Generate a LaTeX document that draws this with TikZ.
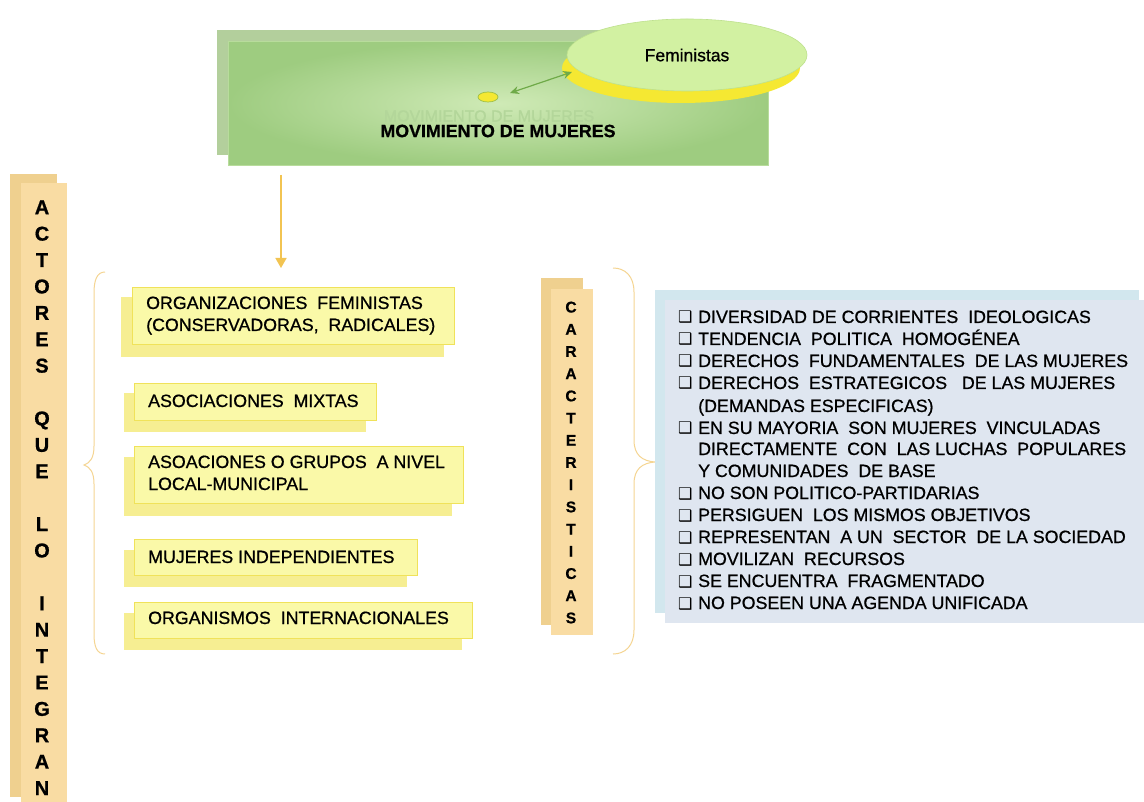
\documentclass[tikz,border=0pt]{standalone}
\usepackage{fontspec}
\setmainfont{Liberation Sans}[FakeBold=0.8]
\newfontfamily\dejavu{DejaVu Sans}
\usetikzlibrary{arrows.meta,shapes.geometric}
\definecolor{gback}{HTML}{B3CF9C}
\definecolor{gin}{HTML}{CFEAB6}
\definecolor{gout}{HTML}{9ECC80}
\definecolor{gborder}{HTML}{B8DC9C}
\definecolor{ghost}{HTML}{B3D69A}
\definecolor{femfill}{HTML}{D2F1A2}
\definecolor{femline}{HTML}{BEE18E}
\definecolor{yel}{HTML}{F5E832}
\definecolor{dotline}{HTML}{9DBE45}
\definecolor{garrow}{HTML}{6FAA48}
\definecolor{orarrow}{HTML}{F2C452}
\definecolor{tanback}{HTML}{EFD08F}
\definecolor{tanfront}{HTML}{F9DCA3}
\definecolor{bracec}{HTML}{F5D592}
\definecolor{yshad}{HTML}{F6EE92}
\definecolor{yfront}{HTML}{FAF9A8}
\definecolor{yline}{HTML}{F0E25A}
\definecolor{bback}{HTML}{D2E7EE}
\definecolor{bfront}{HTML}{DFE6F0}
\tikzset{
  txt/.style={inner sep=0pt, anchor=base west, font=\fontsize{17.8}{22}\selectfont},
  vlet/.style={inner sep=0pt, anchor=base, font=\fontsize{20}{22}\selectfont\bfseries},
  clet/.style={inner sep=0pt, anchor=base, font=\fontsize{15.5}{18}\selectfont\bfseries},
  ybox/.style={draw=yline, line width=0.7pt, fill=yfront, anchor=north west, inner sep=0pt},
  bul/.style={inner sep=0pt, anchor=base west, font=\dejavu\fontsize{16}{18}\selectfont},
  brace/.style={draw=bracec, line width=1pt},
}
\begin{document}
\begin{tikzpicture}[x=1pt,y=-1pt]
\useasboundingbox (0,0) rectangle (1144,802);
\fill[white] (0,0) rectangle (1144,802);

% top green box
\fill[gback] (217,30) rectangle (757,155);
\node[draw=gborder, line width=0.8pt, inner color=gin, outer color=gout, minimum width=540, minimum height=124, anchor=north west, inner sep=0pt] (mov) at (228,41) {};
\node[inner sep=0pt, text=ghost, font=\fontsize{16}{20}\selectfont] (ghosttxt) at (489,116) {MOVIMIENTO DE MUJERES};
\node[inner sep=0pt, font=\fontsize{17.8}{20}\selectfont\bfseries] (movtxt) at (498,131) {MOVIMIENTO DE MUJERES};

% Feministas ellipse
\node[ellipse, fill=yel, minimum width=238, minimum height=70, inner sep=0pt] (femsh) at (681,68) {};
\node[ellipse, fill=femfill, draw=femline, line width=0.6pt, minimum width=240, minimum height=72, inner sep=0pt, font=\fontsize{17.5}{20}\selectfont] (fem) at (687,55) {Feministas};
\node[ellipse, fill=yel, draw=dotline, line width=0.7pt, minimum width=20, minimum height=10, inner sep=0pt] (dot) at (488,97) {};
\coordinate (da) at (510,93);
\coordinate (db) at (572,72);
\draw[garrow, line width=1.2pt, {Stealth[length=9pt,width=8pt]}-{Stealth[length=9pt,width=8pt]}] (da) -- (db);

% orange arrow
\coordinate (oa) at (281,175);
\coordinate (ob) at (281,268);
\draw[orarrow, line width=1.6pt, -{Triangle[length=10pt,width=11pt]}] (oa) -- (ob);

% left column
\fill[tanback] (10,174) rectangle (57,797);
\node[fill=tanfront, minimum width=46, minimum height=619, anchor=north west, inner sep=0pt] (actbar) at (21,183) {};
\foreach \l [count=\i from 0] in {A,C,T,O,R,E,S,,Q,U,E,,L,O,,I,N,T,E,G,R,A,N}
  \node[vlet] (act\i) at (42,{214.2+26.4*\i}) {\l};

% left brace
\draw[brace] (105,272) .. controls (97,272) and (94,280) .. (94,293)
  -- (94,446) .. controls (94,458) and (90,463) .. (84,465)
  .. controls (90,467) and (94,472) .. (94,484)
  -- (94,634) .. controls (94,647) and (97,654) .. (105,654);

% yellow boxes
\fill[yshad] (121,297) rectangle (444,357);
\node[ybox, minimum width=322, minimum height=57] (b1) at (132,287) {};
\node[txt] (t1a) at (146,309) {ORGANIZACIONES\ \ FEMINISTAS};
\node[txt] (t1b) at (146,331) {(CONSERVADORAS,\ \ RADICALES)};

\fill[yshad] (124,393) rectangle (366,432);
\node[ybox, minimum width=242, minimum height=37] (b2) at (134,383) {};
\node[txt] (t2) at (148,407) {ASOCIACIONES\ \ MIXTAS};

\fill[yshad] (124,457) rectangle (452,516);
\node[ybox, minimum width=329, minimum height=57] (b3) at (134,446) {};
\node[txt] (t3a) at (148,468) {ASOACIONES O GRUPOS\ \ A NIVEL};
\node[txt] (t3b) at (148,490) {LOCAL-MUNICIPAL};

\fill[yshad] (124,550) rectangle (407,587);
\node[ybox, minimum width=283, minimum height=36] (b4) at (134,539) {};
\node[txt] (t4) at (148,563) {MUJERES INDEPENDIENTES};

\fill[yshad] (124,613) rectangle (462,650);
\node[ybox, minimum width=338, minimum height=36] (b5) at (134,602) {};
\node[txt] (t5) at (148,624) {ORGANISMOS\ \ INTERNACIONALES};

% caracteristicas column
\fill[tanback] (541,278) rectangle (583,625);
\node[fill=tanfront, minimum width=42, minimum height=346, anchor=north west, inner sep=0pt] (carbar) at (551,289) {};
\foreach \l [count=\i from 0] in {C,A,R,A,C,T,E,R,I,S,T,I,C,A,S}
  \node[clet] (car\i) at (571,{312.5+22.2*\i}) {\l};

% right brace
\draw[brace] (613,268) .. controls (625,268) and (634,276) .. (634,292)
  -- (634,440) .. controls (634,455) and (642,461) .. (655,462)
  .. controls (642,463) and (634,469) .. (634,484)
  -- (634,630) .. controls (634,646) and (625,654) .. (613,654);

% blue box
\fill[bback] (655,290) rectangle (1139,613);
\node[fill=bfront, minimum width=479, minimum height=323, anchor=north west, inner sep=0pt] (bluebox) at (665,300) {};
\foreach \y/\b/\t in {
  323/1/DIVERSIDAD DE CORRIENTES\ \ IDEOLOGICAS,
  345/1/TENDENCIA\ \ POLITICA\ \ HOMOGÉNEA,
  367/1/DERECHOS\ \ FUNDAMENTALES\ \ DE LAS MUJERES,
  389/1/DERECHOS\ \ ESTRATEGICOS\ \ \ DE LAS MUJERES,
  412/0/(DEMANDAS ESPECIFICAS),
  434/1/EN SU MAYORIA\ \ SON MUJERES\ \ VINCULADAS,
  455/0/DIRECTAMENTE\ \ CON\ \ LAS LUCHAS\ \ POPULARES,
  477/0/Y COMUNIDADES\ \ DE BASE,
  499/1/NO SON POLITICO-PARTIDARIAS,
  521/1/PERSIGUEN\ \ LOS MISMOS OBJETIVOS,
  543/1/REPRESENTAN\ \ A UN\ \ SECTOR\ \ DE LA SOCIEDAD,
  565/1/MOVILIZAN\ \ RECURSOS,
  587/1/SE ENCUENTRA\ \ FRAGMENTADO,
  609/1/NO POSEEN UNA AGENDA UNIFICADA} {
  \node[txt] (c\y) at (698,\y) {\t};
  \ifnum\b=1 \node[bul] (q\y) at (678,\y) {❑}; \fi
}
\end{tikzpicture}
\end{document}
